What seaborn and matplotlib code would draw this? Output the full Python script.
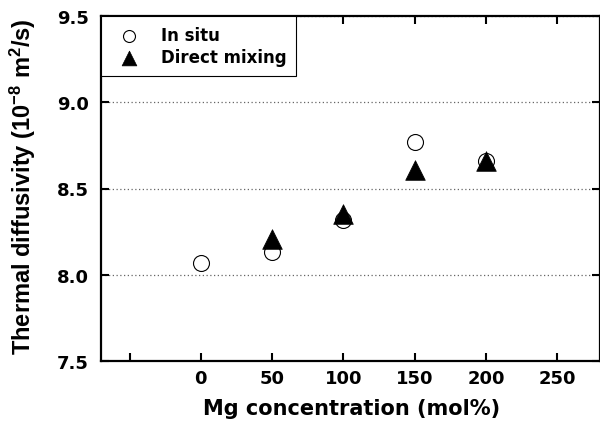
import numpy as np
import pandas as pd
import seaborn as sns
import matplotlib.pyplot as plt

# Data
insitu_mg = [0, 50, 100, 150, 200]
insitu_diff = [8.07, 8.13, 8.32, 8.77, 8.66]
direct_mg = [50, 100, 150, 200]
direct_diff = [8.21, 8.35, 8.61, 8.66]
xticks = [0, 50, 100, 150, 200, 250]
yticks = [7.5, 8.0, 8.5, 9.0, 9.5]

sns.set_style('ticks')
plt.rcParams['font.family'] = ['DejaVu Sans']
plt.rcParams['font.sans-serif'] = ['Liberation Sans', 'DejaVu Sans']
plt.rcParams['font.weight'] = 'bold'
plt.rcParams['mathtext.default'] = 'bf'
plt.rcParams['text.color'] = 'black'
plt.rcParams['axes.labelcolor'] = 'black'

fig = plt.figure(figsize=(6, 4.27), dpi=100)
ax = fig.add_axes([101 / 600, 1 - 362 / 427, 499 / 600, 345 / 427])

df_insitu = pd.DataFrame({'Mg': insitu_mg, 'D': insitu_diff})
df_direct = pd.DataFrame({'Mg': direct_mg, 'D': direct_diff})

sns.scatterplot(data=df_insitu, x='Mg', y='D', marker='o', s=132,
                facecolor='white', edgecolor='black', linewidth=0.8,
                label='In situ', ax=ax, zorder=3)
sns.scatterplot(data=df_direct, x='Mg', y='D', marker='^', s=200,
                color='black', edgecolor='black', linewidth=0.5,
                label='Direct mixing', ax=ax, zorder=4)

ax.set_xlim(-70, 280)
ax.set_ylim(7.5, 9.5)
ax.set_xticks([-50] + xticks)
ax.set_xticklabels([''] + [str(t) for t in xticks])
ax.set_yticks(yticks)
ax.set_yticklabels([f'{t:.1f}' for t in yticks])

for side in ['left', 'bottom', 'top', 'right']:
    ax.spines[side].set_linewidth(1.6)
    ax.spines[side].set_color('black')

ax.tick_params(axis='both', direction='in', length=6, width=1.5,
               top=True, right=True, labelsize=13, colors='black')
ax.tick_params(axis='y', pad=9)
ax.tick_params(axis='x', pad=6)

ax.grid(axis='y', linestyle=(0, (1, 2)), color='#666666', linewidth=0.9)
ax.set_axisbelow(True)

ax.set_xlabel('Mg concentration (mol%)', fontsize=15, fontweight='bold')
ax.set_ylabel('Thermal diffusivity (10$^{-8}$ m$^{2}$/s)', fontsize=17,
              fontweight='bold', family=['Liberation Sans', 'DejaVu Sans'])
ax.yaxis.label.set_math_fontfamily('custom')
ax.xaxis.set_label_coords(0.502, -0.107)
ax.yaxis.set_label_coords(-0.126, 0.509)

leg = ax.legend(loc='upper left', bbox_to_anchor=(0, 1), borderaxespad=0,
                fontsize=12, frameon=True, fancybox=False, framealpha=1,
                edgecolor='black', markerscale=0.75, handletextpad=0.86,
                handlelength=2.13, borderpad=0.6, labelspacing=0.25)
leg.get_frame().set_linewidth(0.8)

fig.savefig('out.png', dpi=100)
